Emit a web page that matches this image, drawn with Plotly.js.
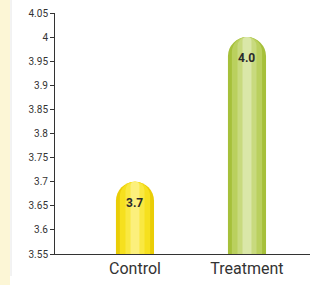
<!DOCTYPE html>
<html><head><meta charset="utf-8">
<script src="https://cdn.plot.ly/plotly-3.0.1.min.js"></script>
<style>html,body{margin:0;padding:0;background:#fff}#c{width:310px;height:285px}</style>
</head><body><div id="c"></div>
<script>
const categories = ["Control", "Treatment"];
const values = [3.7, 4.0];
const valueLabels = ["3.7", "4.0"];
const edgeColors = ["#EACD06", "#A6C03A"];
const baseColors = ["#F6E01E", "#BAD05E"];
const midColors = ["#F9E842", "#C8DA7E"];
const highlightColors = ["#FCF07C", "#DAE7A8"];
const tickVals = [3.55, 3.6, 3.65, 3.7, 3.75, 3.8, 3.85, 3.9, 3.95, 4, 4.05];
const tickText = ["3.55", "3.6", "3.65", "3.7", "3.75", "3.8", "3.85", "3.9", "3.95", "4", "4.05"];

const F = 'Roboto, "Liberation Sans", sans-serif';

const layers = [
  {w:0.34, c:edgeColors, r:19},
  {w:0.27, c:baseColors, r:15},
  {w:0.17, c:midColors, r:9},
  {w:0.08, c:highlightColors, r:4}
];
const traces = layers.map(L => ({
  type:'bar', x:categories, y:values, width:L.w,
  marker:{color:L.c, cornerradius:L.r, line:{width:0}}, hoverinfo:'none'
}));

const annotations = categories.map((c,i)=>({
  x:c, y:values[i], xref:'x', yref:'y', text:'<b>'+valueLabels[i]+'</b>', showarrow:false,
  yshift:-21, font:{family:F, size:12, color:'#2a2a2a'}
}));

const layout = {
  width:310, height:285, showlegend:false, barmode:'overlay',
  margin:{l:55, r:0, t:13, b:31},
  paper_bgcolor:'#fff', plot_bgcolor:'#fff',
  xaxis:{type:'category', range:[-0.714, 1.5625], showline:true, linecolor:'#333', linewidth:1,
    ticks:'', showgrid:false, zeroline:false, tickfont:{family:F, size:16, color:'#333'}},
  yaxis:{range:[3.55, 4.05], tickvals:tickVals, ticktext:tickText, showline:true, linecolor:'#333',
    linewidth:1, ticks:'outside', ticklen:4, tickcolor:'#333', showgrid:false, zeroline:false,
    tickfont:{family:F, size:10, color:'#333'}},
  annotations: annotations,
  shapes:[
    {type:'rect', xref:'paper', yref:'paper', x0:-55/255, x1:-45/255, y0:-31/241, y1:13/241+1,
     fillcolor:'#FCF6D6', line:{width:0}, layer:'below'},
    {type:'line', xref:'paper', yref:'paper', x0:-44/255, x1:-44/255, y0:-22/241, y1:13/241+1,
     line:{color:'#E6E6E6', width:1}, layer:'below'}
  ]
};
Plotly.newPlot('c', traces, layout, {staticPlot:true, displayModeBar:false});
</script></body></html>
